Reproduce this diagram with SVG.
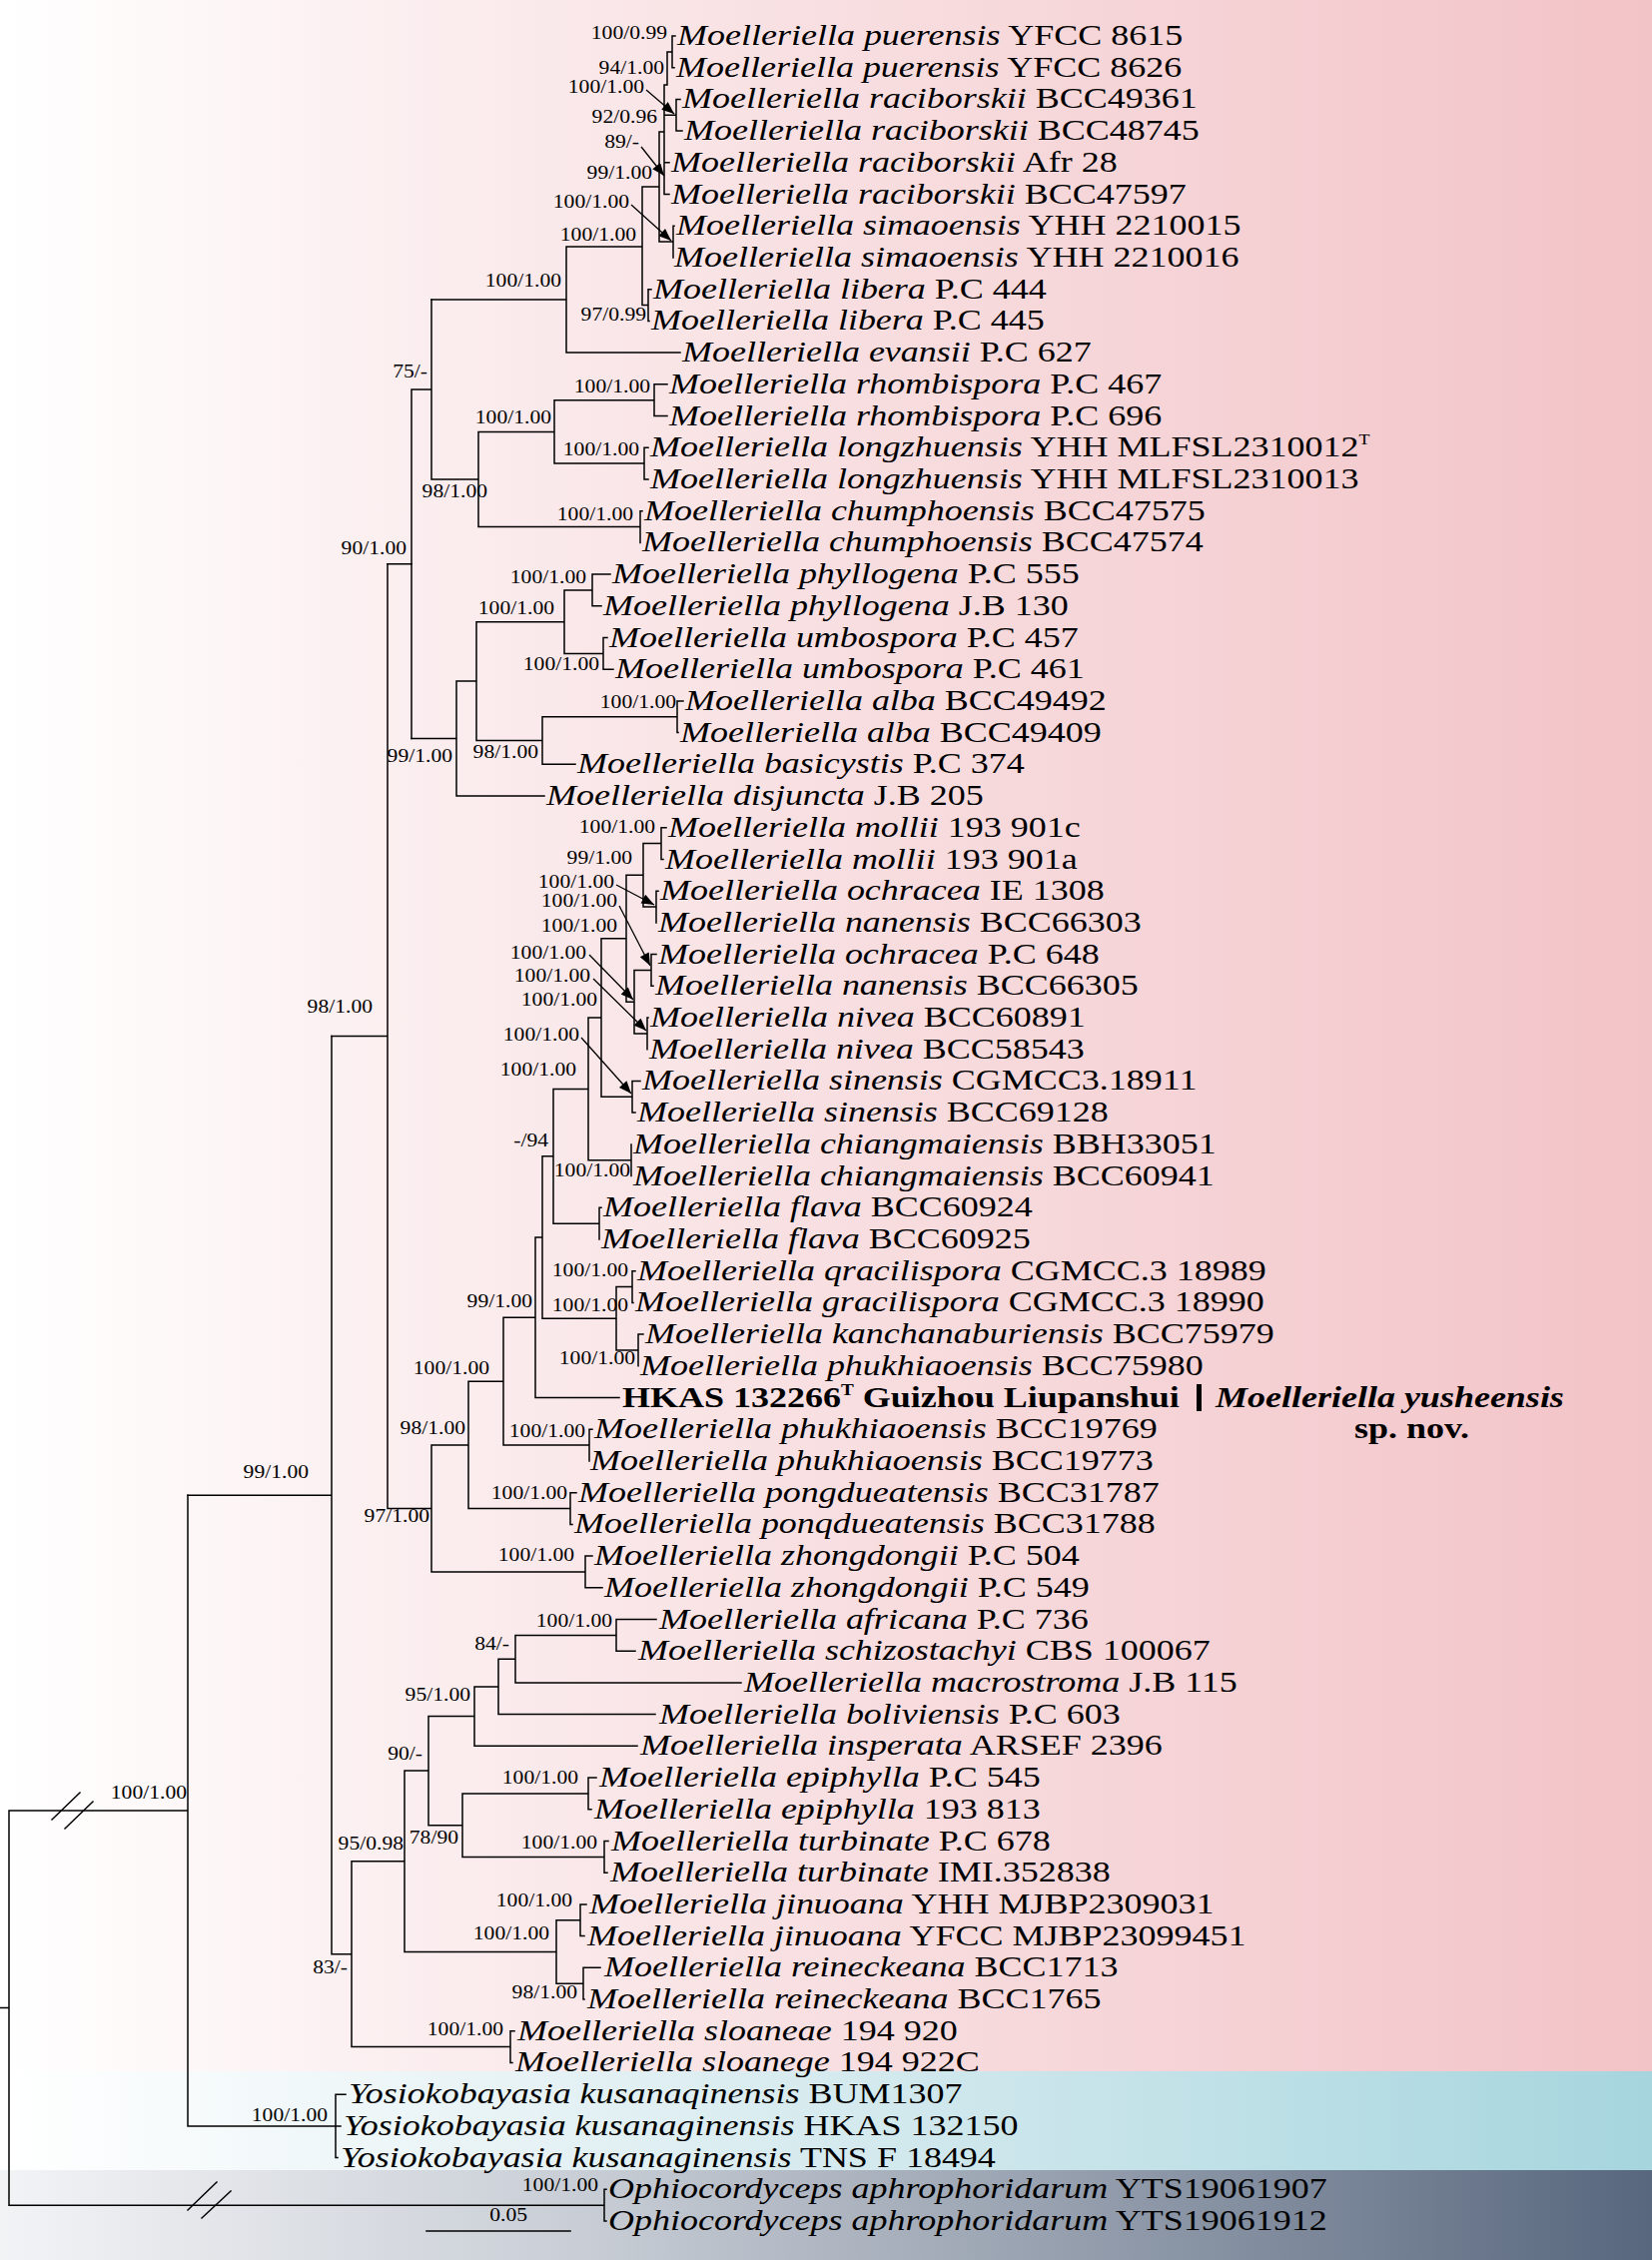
<svg xmlns="http://www.w3.org/2000/svg" width="1654" height="2263" viewBox="0 0 1654 2263">
<defs>
<linearGradient id="gPink" x1="0" y1="0" x2="1" y2="0"><stop offset="0" stop-color="#ffffff"/><stop offset="0.2" stop-color="#fcf1f2"/><stop offset="0.5" stop-color="#f8dfe1"/><stop offset="1" stop-color="#f2c3c7"/></linearGradient>
<linearGradient id="gBlue" x1="0" y1="0" x2="1" y2="0"><stop offset="0" stop-color="#ffffff"/><stop offset="0.35" stop-color="#e4f1f4"/><stop offset="1" stop-color="#a6d5de"/></linearGradient>
<linearGradient id="gDark" x1="0" y1="0" x2="1" y2="0"><stop offset="0" stop-color="#f2f3f5"/><stop offset="0.35" stop-color="#c9ced6"/><stop offset="1" stop-color="#58677e"/></linearGradient>
<marker id="ah" viewBox="0 0 10 8" refX="10" refY="4" markerUnits="userSpaceOnUse" markerWidth="14" markerHeight="10" orient="auto"><path d="M0,0 L10,4 L0,8 z" fill="#000"/></marker>
<style>
.br{fill:none;stroke:#000;stroke-width:1.5;stroke-linecap:square}
.ar{fill:none;stroke:#000;stroke-width:1.3;marker-end:url(#ah)}
.tx{font-family:"Liberation Serif","Times New Roman",serif;font-size:30px;fill:#000}
.it{font-style:italic}
.lb{font-family:"Liberation Serif","Times New Roman",serif;font-size:18px;fill:#000;text-anchor:end}
.bd{font-weight:bold}
</style>
</defs>
<g id="background">
<rect x="0" y="0" width="1654" height="2074" fill="url(#gPink)"/>
<rect x="0" y="2074" width="1654" height="99" fill="url(#gBlue)"/>
<rect x="0" y="2173" width="1654" height="90" fill="url(#gDark)"/>
</g>
<g id="connectors">
<path class="br" d="M673,36 V67.7 M673,36 H676 M673,67.7 H675 M668,52 H673 M668,52 V85 M665,85 H668 M665,85 V194.6 M665,115.2 H677 M677,99.4 V131.1 M677,99.4 H681 M677,131.1 H683 M665,162.8 H670 M665,194.6 H670 M660,132 H665 M660,132 V242.1 M660,242.1 H674 M674,226.3 V258 M674,226.3 H675 M643,187 H660 M643,187 V305.5 M643,305.5 H649 M649,289.7 V321.4 M649,289.7 H652 M649,321.4 H650 M567,247 H643 M567,247 V353.1 M567,353.1 H681 M432,300 H567"/>
<path class="br" d="M655,384.8 V416.5 M655,384.8 H668 M655,416.5 H668 M645,448.2 V479.9 M645,448.2 H649 M645,479.9 H649 M555,400.7 V464.1 M555,400.7 H655 M555,464.1 H645 M641,511.7 V543.4 M641,511.7 H643 M479,432.4 V527.5 M479,432.4 H555 M479,527.5 H641 M432,300 V480 M432,480 H479 M412,390 H432 M412,390 V739.6"/>
<path class="br" d="M593,575.1 V606.8 M593,575.1 H611 M593,606.8 H602 M604,638.5 V670.2 M604,638.5 H608 M604,670.2 H614 M565,591 V654.4 M565,591 H593 M565,654.4 H604 M678,701.9 V733.6 M678,701.9 H684 M678,733.6 H679 M543,717.8 V765.3 M543,717.8 H678 M543,765.3 H576 M477,622.7 V741.5 M477,622.7 H565 M477,741.5 H543 M457,682.1 V797 M457,682.1 H477 M457,797 H545 M412,739.6 H457 M388,564.8 H412"/>
<path class="br" d="M662,828.8 V860.5 M662,828.8 H667 M662,860.5 H664 M657,892.2 V923.9 M657,892.2 H659 M644,844.6 V908 M644,844.6 H662 M644,908 H657 M652,955.6 V987.3 M652,955.6 H657 M652,987.3 H654 M648,1019 V1050.7 M648,1019 H649 M635,971.5 V1034.9 M635,971.5 H652 M635,1034.9 H648 M627,876.3 V1003.2 M627,876.3 H644 M627,1003.2 H635 M633,1082.4 V1114.1 M633,1082.4 H641 M633,1114.1 H636 M602,939.8 V1098.3 M602,939.8 H627 M602,1098.3 H633 M632,1145.9 V1177.6 M589,1019 V1161.8 M589,1019 H602 M589,1161.8 H632 M600,1209.3 V1241 M600,1209.3 H602 M554,1090.4 V1225.2 M554,1090.4 H589 M554,1225.2 H600 M633,1272.7 V1304.4 M633,1272.7 H636 M633,1304.4 H634 M639,1336.1 V1367.8 M639,1336.1 H644 M617,1288.6 V1352 M617,1288.6 H633 M617,1352 H639 M543,1157.8 V1320.3 M543,1157.8 H554 M543,1320.3 H617 M536,1239 V1399.5 M536,1239 H543 M536,1399.5 H620 M590,1431.2 V1463 M590,1431.2 H593 M504,1319.3 V1447.1 M504,1319.3 H536 M504,1447.1 H590 M571,1494.7 V1526.4 M571,1494.7 H577 M571,1526.4 H573 M469,1383.2 V1510.5 M469,1383.2 H504 M469,1510.5 H571 M586,1558.1 V1589.8 M586,1558.1 H593 M586,1589.8 H603 M432,1446.9 V1574 M432,1446.9 H469 M432,1574 H586 M388,564.8 V1510.4 M388,1510.4 H432 M332,1037.6 H388"/>
<path class="br" d="M617,1621.5 V1653.2 M617,1621.5 H657 M617,1653.2 H636 M516,1637.4 V1684.9 M516,1637.4 H617 M516,1684.9 H742 M499,1661.2 V1716.6 M499,1661.2 H516 M499,1716.6 H656 M475,1688.9 V1748.3 M475,1688.9 H499 M475,1748.3 H638 M589,1780.1 V1811.8 M589,1780.1 H597 M589,1811.8 H592 M605,1843.5 V1875.2 M605,1843.5 H609 M605,1875.2 H608 M463,1796 V1859.4 M463,1796 H589 M463,1859.4 H605 M429,1718.6 V1827.7 M429,1718.6 H475 M429,1827.7 H463 M581,1906.9 V1938.6 M581,1906.9 H587 M581,1938.6 H585 M584,1970.3 V2002 M584,1970.3 H601 M584,2002 H585 M557,1922.8 V1986.2 M557,1922.8 H581 M557,1986.2 H584 M405,1773.1 V1954.5 M405,1773.1 H429 M405,1954.5 H557 M511,2033.7 V2065.4 M511,2033.7 H515 M511,2065.4 H513 M352,1863.8 V2049.6 M352,1863.8 H405 M352,2049.6 H511 M332,1037.6 V1956.7 M332,1956.7 H352 M188,1497.2 H332"/>
<path class="br" d="M336,2097.2 V2160.6 M336,2097.2 H346 M336,2128.9 H341 M336,2160.6 H338 M188,1497.2 V2128.9 M188,2128.9 H336 M9,1813 H188 M605,2192.3 V2224 M605,2192.3 H607 M605,2224 H607 M9,1813 V2208.2 M9,2208.2 H605 M0,2010.6 H9"/>
<path class="br" d="M52,1822 L80,1795 M65,1831 L93,1804 M188,2213 L217,2185 M202,2221 L231,2194"/>
<path class="ar" d="M647,90 L675,114"/>
<path class="ar" d="M642,147 L665,176"/>
<path class="ar" d="M632,205 L672,241"/>
<path class="ar" d="M617,886 L655,906"/>
<path class="ar" d="M620,907 L651,967"/>
<path class="ar" d="M590,956 L634,1001"/>
<path class="ar" d="M594,980 L647,1032"/>
<path class="ar" d="M582,1039 L632,1095"/>
<path class="br" d="M427,2234 H571"/>
</g>
<g id="tips">
<g id="tip-0"><text class="tx" transform="translate(678 45) scale(1.2 1)"><tspan class="it">Moelleriella puerensis</tspan> YFCC 8615</text></g>
<g id="tip-1"><text class="tx" transform="translate(677 76.7) scale(1.2 1)"><tspan class="it">Moelleriella puerensis</tspan> YFCC 8626</text></g>
<g id="tip-2"><text class="tx" transform="translate(683 108.4) scale(1.2 1)"><tspan class="it">Moelleriella raciborskii</tspan> BCC49361</text></g>
<g id="tip-3"><text class="tx" transform="translate(685 140.1) scale(1.2 1)"><tspan class="it">Moelleriella raciborskii</tspan> BCC48745</text></g>
<g id="tip-4"><text class="tx" transform="translate(672 171.8) scale(1.2 1)"><tspan class="it">Moelleriella raciborskii</tspan> Afr 28</text></g>
<g id="tip-5"><text class="tx" transform="translate(672 203.6) scale(1.2 1)"><tspan class="it">Moelleriella raciborskii</tspan> BCC47597</text></g>
<g id="tip-6"><text class="tx" transform="translate(677 235.3) scale(1.2 1)"><tspan class="it">Moelleriella simaoensis</tspan> YHH 2210015</text></g>
<g id="tip-7"><text class="tx" transform="translate(675 267) scale(1.2 1)"><tspan class="it">Moelleriella simaoensis</tspan> YHH 2210016</text></g>
<g id="tip-8"><text class="tx" transform="translate(654 298.7) scale(1.2 1)"><tspan class="it">Moelleriella libera</tspan> P.C 444</text></g>
<g id="tip-9"><text class="tx" transform="translate(652 330.4) scale(1.2 1)"><tspan class="it">Moelleriella libera</tspan> P.C 445</text></g>
<g id="tip-10"><text class="tx" transform="translate(683 362.1) scale(1.2 1)"><tspan class="it">Moelleriella evansii</tspan> P.C 627</text></g>
<g id="tip-11"><text class="tx" transform="translate(670 393.8) scale(1.2 1)"><tspan class="it">Moelleriella rhombispora</tspan> P.C 467</text></g>
<g id="tip-12"><text class="tx" transform="translate(670 425.5) scale(1.2 1)"><tspan class="it">Moelleriella rhombispora</tspan> P.C 696</text></g>
<g id="tip-13"><text class="tx" transform="translate(651 457.2) scale(1.2 1)"><tspan class="it">Moelleriella longzhuensis</tspan> YHH MLFSL2310012<tspan font-size="15" dy="-12">T</tspan></text></g>
<g id="tip-14"><text class="tx" transform="translate(651 488.9) scale(1.2 1)"><tspan class="it">Moelleriella longzhuensis</tspan> YHH MLFSL2310013</text></g>
<g id="tip-15"><text class="tx" transform="translate(645 520.7) scale(1.2 1)"><tspan class="it">Moelleriella chumphoensis</tspan> BCC47575</text></g>
<g id="tip-16"><text class="tx" transform="translate(643 552.4) scale(1.2 1)"><tspan class="it">Moelleriella chumphoensis</tspan> BCC47574</text></g>
<g id="tip-17"><text class="tx" transform="translate(613 584.1) scale(1.2 1)"><tspan class="it">Moelleriella phyllogena</tspan> P.C 555</text></g>
<g id="tip-18"><text class="tx" transform="translate(604 615.8) scale(1.2 1)"><tspan class="it">Moelleriella phyllogena</tspan> J.B 130</text></g>
<g id="tip-19"><text class="tx" transform="translate(610 647.5) scale(1.2 1)"><tspan class="it">Moelleriella umbospora</tspan> P.C 457</text></g>
<g id="tip-20"><text class="tx" transform="translate(616 679.2) scale(1.2 1)"><tspan class="it">Moelleriella umbospora</tspan> P.C 461</text></g>
<g id="tip-21"><text class="tx" transform="translate(686 710.9) scale(1.2 1)"><tspan class="it">Moelleriella alba</tspan> BCC49492</text></g>
<g id="tip-22"><text class="tx" transform="translate(681 742.6) scale(1.2 1)"><tspan class="it">Moelleriella alba</tspan> BCC49409</text></g>
<g id="tip-23"><text class="tx" transform="translate(578 774.3) scale(1.2 1)"><tspan class="it">Moelleriella basicystis</tspan> P.C 374</text></g>
<g id="tip-24"><text class="tx" transform="translate(547 806) scale(1.2 1)"><tspan class="it">Moelleriella disjuncta</tspan> J.B 205</text></g>
<g id="tip-25"><text class="tx" transform="translate(669 837.8) scale(1.2 1)"><tspan class="it">Moelleriella mollii</tspan> 193 901c</text></g>
<g id="tip-26"><text class="tx" transform="translate(666 869.5) scale(1.2 1)"><tspan class="it">Moelleriella mollii</tspan> 193 901a</text></g>
<g id="tip-27"><text class="tx" transform="translate(661 901.2) scale(1.2 1)"><tspan class="it">Moelleriella ochracea</tspan> IE 1308</text></g>
<g id="tip-28"><text class="tx" transform="translate(659 932.9) scale(1.2 1)"><tspan class="it">Moelleriella nanensis</tspan> BCC66303</text></g>
<g id="tip-29"><text class="tx" transform="translate(659 964.6) scale(1.2 1)"><tspan class="it">Moelleriella ochracea</tspan> P.C 648</text></g>
<g id="tip-30"><text class="tx" transform="translate(656 996.3) scale(1.2 1)"><tspan class="it">Moelleriella nanensis</tspan> BCC66305</text></g>
<g id="tip-31"><text class="tx" transform="translate(651 1028) scale(1.2 1)"><tspan class="it">Moelleriella nivea</tspan> BCC60891</text></g>
<g id="tip-32"><text class="tx" transform="translate(650 1059.7) scale(1.2 1)"><tspan class="it">Moelleriella nivea</tspan> BCC58543</text></g>
<g id="tip-33"><text class="tx" transform="translate(643 1091.4) scale(1.2 1)"><tspan class="it">Moelleriella sinensis</tspan> CGMCC3.18911</text></g>
<g id="tip-34"><text class="tx" transform="translate(638 1123.1) scale(1.2 1)"><tspan class="it">Moelleriella sinensis</tspan> BCC69128</text></g>
<g id="tip-35"><text class="tx" transform="translate(634 1154.9) scale(1.2 1)"><tspan class="it">Moelleriella chiangmaiensis</tspan> BBH33051</text></g>
<g id="tip-36"><text class="tx" transform="translate(634 1186.6) scale(1.2 1)"><tspan class="it">Moelleriella chiangmaiensis</tspan> BCC60941</text></g>
<g id="tip-37"><text class="tx" transform="translate(604 1218.3) scale(1.2 1)"><tspan class="it">Moelleriella flava</tspan> BCC60924</text></g>
<g id="tip-38"><text class="tx" transform="translate(602 1250) scale(1.2 1)"><tspan class="it">Moelleriella flava</tspan> BCC60925</text></g>
<g id="tip-39"><text class="tx" transform="translate(638 1281.7) scale(1.2 1)"><tspan class="it">Moelleriella qracilispora</tspan> CGMCC.3 18989</text></g>
<g id="tip-40"><text class="tx" transform="translate(636 1313.4) scale(1.2 1)"><tspan class="it">Moelleriella gracilispora</tspan> CGMCC.3 18990</text></g>
<g id="tip-41"><text class="tx" transform="translate(646 1345.1) scale(1.2 1)"><tspan class="it">Moelleriella kanchanaburiensis</tspan> BCC75979</text></g>
<g id="tip-42"><text class="tx" transform="translate(641 1376.8) scale(1.2 1)"><tspan class="it">Moelleriella phukhiaoensis</tspan> BCC75980</text></g>
<g id="tip-43"><text class="tx bd" transform="translate(623 1408.5) scale(1.2 1)">HKAS 132266<tspan font-size="16" dy="-12">T</tspan><tspan dy="12"> Guizhou Liupanshui</tspan></text>
<rect x="1198" y="1386" width="5" height="27" fill="#000"/>
<text class="tx bd it" transform="translate(1217 1408.5) scale(1.2 1)">Moelleriella yusheensis</text>
<text class="tx bd" transform="translate(1356 1440.2) scale(1.2 1)">sp. nov.</text></g>
<g id="tip-44"><text class="tx" transform="translate(595 1440.2) scale(1.2 1)"><tspan class="it">Moelleriella phukhiaoensis</tspan> BCC19769</text></g>
<g id="tip-45"><text class="tx" transform="translate(591 1472) scale(1.2 1)"><tspan class="it">Moelleriella phukhiaoensis</tspan> BCC19773</text></g>
<g id="tip-46"><text class="tx" transform="translate(579 1503.7) scale(1.2 1)"><tspan class="it">Moelleriella pongdueatensis</tspan> BCC31787</text></g>
<g id="tip-47"><text class="tx" transform="translate(575 1535.4) scale(1.2 1)"><tspan class="it">Moelleriella ponqdueatensis</tspan> BCC31788</text></g>
<g id="tip-48"><text class="tx" transform="translate(595 1567.1) scale(1.2 1)"><tspan class="it">Moelleriella zhongdongii</tspan> P.C 504</text></g>
<g id="tip-49"><text class="tx" transform="translate(605 1598.8) scale(1.2 1)"><tspan class="it">Moelleriella zhongdongii</tspan> P.C 549</text></g>
<g id="tip-50"><text class="tx" transform="translate(660 1630.5) scale(1.2 1)"><tspan class="it">Moelleriella africana</tspan> P.C 736</text></g>
<g id="tip-51"><text class="tx" transform="translate(639 1662.2) scale(1.2 1)"><tspan class="it">Moelleriella schizostachyi</tspan> CBS 100067</text></g>
<g id="tip-52"><text class="tx" transform="translate(745 1693.9) scale(1.2 1)"><tspan class="it">Moelleriella macrostroma</tspan> J.B 115</text></g>
<g id="tip-53"><text class="tx" transform="translate(660 1725.6) scale(1.2 1)"><tspan class="it">Moelleriella boliviensis</tspan> P.C 603</text></g>
<g id="tip-54"><text class="tx" transform="translate(641 1757.3) scale(1.2 1)"><tspan class="it">Moelleriella insperata</tspan> ARSEF 2396</text></g>
<g id="tip-55"><text class="tx" transform="translate(600 1789.1) scale(1.2 1)"><tspan class="it">Moelleriella epiphylla</tspan> P.C 545</text></g>
<g id="tip-56"><text class="tx" transform="translate(595 1820.8) scale(1.2 1)"><tspan class="it">Moelleriella epiphylla</tspan> 193 813</text></g>
<g id="tip-57"><text class="tx" transform="translate(612 1852.5) scale(1.2 1)"><tspan class="it">Moelleriella turbinate</tspan> P.C 678</text></g>
<g id="tip-58"><text class="tx" transform="translate(611 1884.2) scale(1.2 1)"><tspan class="it">Moelleriella turbinate</tspan> IMI.352838</text></g>
<g id="tip-59"><text class="tx" transform="translate(590 1915.9) scale(1.2 1)"><tspan class="it">Moelleriella jinuoana</tspan> YHH MJBP2309031</text></g>
<g id="tip-60"><text class="tx" transform="translate(588 1947.6) scale(1.2 1)"><tspan class="it">Moelleriella jinuoana</tspan> YFCC MJBP23099451</text></g>
<g id="tip-61"><text class="tx" transform="translate(605 1979.3) scale(1.2 1)"><tspan class="it">Moelleriella reineckeana</tspan> BCC1713</text></g>
<g id="tip-62"><text class="tx" transform="translate(588 2011) scale(1.2 1)"><tspan class="it">Moelleriella reineckeana</tspan> BCC1765</text></g>
<g id="tip-63"><text class="tx" transform="translate(518 2042.7) scale(1.2 1)"><tspan class="it">Moelleriella sloaneae</tspan> 194 920</text></g>
<g id="tip-64"><text class="tx" transform="translate(516 2074.4) scale(1.2 1)"><tspan class="it">Moelleriella sloanege</tspan> 194 922C</text></g>
<g id="tip-65"><text class="tx" transform="translate(349 2106.2) scale(1.2 1)"><tspan class="it">Yosiokobayasia kusanaqinensis</tspan> BUM1307</text></g>
<g id="tip-66"><text class="tx" transform="translate(344 2137.9) scale(1.2 1)"><tspan class="it">Yosiokobayasia kusanaginensis</tspan> HKAS 132150</text></g>
<g id="tip-67"><text class="tx" transform="translate(341 2169.6) scale(1.2 1)"><tspan class="it">Yosiokobayasia kusanaginensis</tspan> TNS F 18494</text></g>
<g id="tip-68"><text class="tx" transform="translate(609 2201.3) scale(1.2 1)"><tspan class="it">Ophiocordyceps aphrophoridarum</tspan> YTS19061907</text></g>
<g id="tip-69"><text class="tx" transform="translate(609 2233) scale(1.2 1)"><tspan class="it">Ophiocordyceps aphrophoridarum</tspan> YTS19061912</text></g>
</g>
<g id="support-values">
<text class="lb" transform="translate(668 39) scale(1.2 1)">100/0.99</text>
<text class="lb" transform="translate(665 74) scale(1.2 1)">94/1.00</text>
<text class="lb" transform="translate(645 93) scale(1.2 1)">100/1.00</text>
<text class="lb" transform="translate(658 123) scale(1.2 1)">92/0.96</text>
<text class="lb" transform="translate(640 148) scale(1.2 1)">89/-</text>
<text class="lb" transform="translate(653 179) scale(1.2 1)">99/1.00</text>
<text class="lb" transform="translate(630 208) scale(1.2 1)">100/1.00</text>
<text class="lb" transform="translate(637 241) scale(1.2 1)">100/1.00</text>
<text class="lb" transform="translate(647 321) scale(1.2 1)">97/0.99</text>
<text class="lb" transform="translate(562 287) scale(1.2 1)">100/1.00</text>
<text class="lb" transform="translate(428 378) scale(1.2 1)">75/-</text>
<text class="lb" transform="translate(407 555) scale(1.2 1)">90/1.00</text>
<text class="lb" transform="translate(651 393) scale(1.2 1)">100/1.00</text>
<text class="lb" transform="translate(552 424) scale(1.2 1)">100/1.00</text>
<text class="lb" transform="translate(640 456) scale(1.2 1)">100/1.00</text>
<text class="lb" transform="translate(488 498) scale(1.2 1)">98/1.00</text>
<text class="lb" transform="translate(634 521) scale(1.2 1)">100/1.00</text>
<text class="lb" transform="translate(587 584) scale(1.2 1)">100/1.00</text>
<text class="lb" transform="translate(555 615) scale(1.2 1)">100/1.00</text>
<text class="lb" transform="translate(600 671) scale(1.2 1)">100/1.00</text>
<text class="lb" transform="translate(677 709) scale(1.2 1)">100/1.00</text>
<text class="lb" transform="translate(539 759) scale(1.2 1)">98/1.00</text>
<text class="lb" transform="translate(453 763) scale(1.2 1)">99/1.00</text>
<text class="lb" transform="translate(373 1014) scale(1.2 1)">98/1.00</text>
<text class="lb" transform="translate(656 834) scale(1.2 1)">100/1.00</text>
<text class="lb" transform="translate(633 865) scale(1.2 1)">99/1.00</text>
<text class="lb" transform="translate(615 889) scale(1.2 1)">100/1.00</text>
<text class="lb" transform="translate(618 908) scale(1.2 1)">100/1.00</text>
<text class="lb" transform="translate(618 933) scale(1.2 1)">100/1.00</text>
<text class="lb" transform="translate(587 960) scale(1.2 1)">100/1.00</text>
<text class="lb" transform="translate(591 983) scale(1.2 1)">100/1.00</text>
<text class="lb" transform="translate(598 1007) scale(1.2 1)">100/1.00</text>
<text class="lb" transform="translate(580 1042) scale(1.2 1)">100/1.00</text>
<text class="lb" transform="translate(577 1077) scale(1.2 1)">100/1.00</text>
<text class="lb" transform="translate(549 1148) scale(1.2 1)">-/94</text>
<text class="lb" transform="translate(631 1178) scale(1.2 1)">100/1.00</text>
<text class="lb" transform="translate(629 1278) scale(1.2 1)">100/1.00</text>
<text class="lb" transform="translate(629 1313) scale(1.2 1)">100/1.00</text>
<text class="lb" transform="translate(533 1309) scale(1.2 1)">99/1.00</text>
<text class="lb" transform="translate(636 1366) scale(1.2 1)">100/1.00</text>
<text class="lb" transform="translate(490 1376) scale(1.2 1)">100/1.00</text>
<text class="lb" transform="translate(466 1436) scale(1.2 1)">98/1.00</text>
<text class="lb" transform="translate(586 1439) scale(1.2 1)">100/1.00</text>
<text class="lb" transform="translate(309 1480) scale(1.2 1)">99/1.00</text>
<text class="lb" transform="translate(568 1501) scale(1.2 1)">100/1.00</text>
<text class="lb" transform="translate(430 1524) scale(1.2 1)">97/1.00</text>
<text class="lb" transform="translate(575 1563) scale(1.2 1)">100/1.00</text>
<text class="lb" transform="translate(613 1629) scale(1.2 1)">100/1.00</text>
<text class="lb" transform="translate(510 1652) scale(1.2 1)">84/-</text>
<text class="lb" transform="translate(471 1703) scale(1.2 1)">95/1.00</text>
<text class="lb" transform="translate(423 1762) scale(1.2 1)">90/-</text>
<text class="lb" transform="translate(579 1786) scale(1.2 1)">100/1.00</text>
<text class="lb" transform="translate(187 1801) scale(1.2 1)">100/1.00</text>
<text class="lb" transform="translate(459 1846) scale(1.2 1)">78/90</text>
<text class="lb" transform="translate(404 1852) scale(1.2 1)">95/0.98</text>
<text class="lb" transform="translate(598 1851) scale(1.2 1)">100/1.00</text>
<text class="lb" transform="translate(573 1909) scale(1.2 1)">100/1.00</text>
<text class="lb" transform="translate(550 1942) scale(1.2 1)">100/1.00</text>
<text class="lb" transform="translate(348 1976) scale(1.2 1)">83/-</text>
<text class="lb" transform="translate(578 2001) scale(1.2 1)">98/1.00</text>
<text class="lb" transform="translate(504 2038) scale(1.2 1)">100/1.00</text>
<text class="lb" transform="translate(328 2124) scale(1.2 1)">100/1.00</text>
<text class="lb" transform="translate(599 2194) scale(1.2 1)">100/1.00</text>
<text class="lb" transform="translate(528 2224) scale(1.2 1)">0.05</text>
</g>
</svg>
